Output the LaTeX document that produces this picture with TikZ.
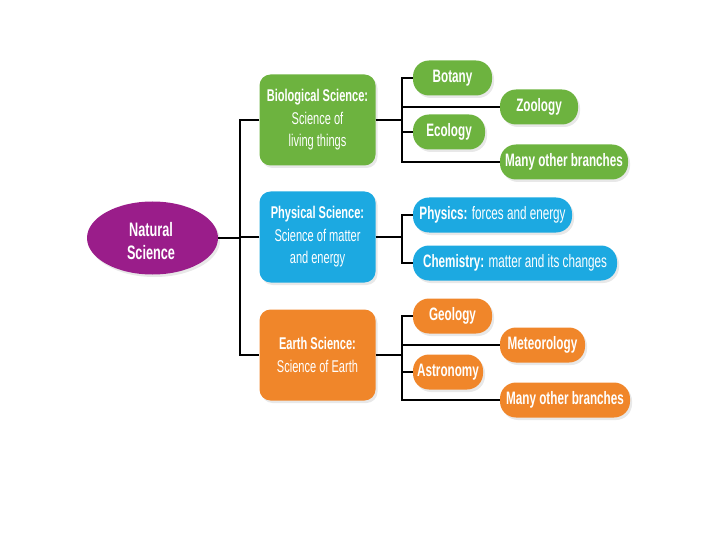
\documentclass[tikz,border=0pt]{standalone}
\usepackage{fontspec}
\setmainfont[FakeStretch=0.65]{Liberation Sans}
\usetikzlibrary{shapes.geometric,shadows}
\definecolor{bgreen}{HTML}{6DB33F}
\definecolor{pblue}{HTML}{1CA9E1}
\definecolor{eorange}{HTML}{F0862A}
\definecolor{npurple}{HTML}{9A1D8A}
\begin{document}
\begin{tikzpicture}[x=1pt,y=-1pt,
  shade/.style={drop shadow={opacity=0.18,shadow xshift=2pt,shadow yshift=-2.5pt}},
  mainbox/.style={fill=#1,shade,rounded corners=11pt,text=white,align=center,
    minimum width=116pt,minimum height=91pt,inner sep=0pt,
    font=\fontsize{17}{22.5}\selectfont},
  leaf/.style={fill=#1,shade,rounded corners=16pt,text=white,minimum height=35pt,
    inner sep=0pt,font=\fontsize{18}{20}\selectfont},
  bleaf/.style={leaf=#1,font=\fontsize{18}{20}\selectfont\bfseries},
  conn/.style={line width=1.2pt,black}]
\useasboundingbox (0,0) rectangle (720,540);

\node[ellipse,fill=npurple,shade,minimum width=131pt,minimum height=73pt,inner sep=0pt] (ns) at (152.5,238) {};
\node[text=white,align=center,inner sep=0pt,font=\fontsize{19.5}{23}\selectfont\bfseries] (nst) at (151,241) {Natural\\Science};

\node[mainbox=bgreen] (bio) at (317.5,120) {\textbf{Biological Science:}\\Science of\\living things};
\node[mainbox=pblue] (phys) at (317.5,237) {\textbf{Physical Science:}\\Science of matter\\and energy};
\node[mainbox=eorange] (earth) at (317.5,355) {\textbf{Earth Science:}\\Science of Earth};

\node[bleaf=bgreen,minimum width=79pt] (bot) at (452.5,78) {Botany};
\node[bleaf=bgreen,minimum width=78pt] (zoo) at (539,107) {Zoology};
\node[bleaf=bgreen,minimum width=72pt] (eco) at (449,132) {Ecology};
\node[bleaf=bgreen,minimum width=128pt] (many1) at (564,162) {Many other branches};

\node[leaf=pblue,minimum width=159pt] (phy) at (492.5,215) {\textbf{Physics:} forces and energy};
\node[leaf=pblue,minimum width=204pt] (chem) at (515,263) {\textbf{Chemistry:} matter and its changes};

\node[bleaf=eorange,minimum width=79pt] (geo) at (452.5,316) {Geology};
\node[bleaf=eorange,minimum width=85pt] (met) at (542.5,345) {Meteorology};
\node[bleaf=eorange,minimum width=70pt] (ast) at (448,372) {Astronomy};
\node[bleaf=eorange,minimum width=130pt] (many2) at (565,400) {Many other branches};

\coordinate (m) at (240,238);
\coordinate (b) at (402,0);

\draw[conn] (ns.east) -- (m);
\draw[conn] (bio.west) -- (bio.west -| m) -- (earth.west -| m) -- (earth.west);
\draw[conn] (phys.west) -- (phys.west -| m);

\draw[conn] (bio.east) -- (bio.east -| b);
\draw[conn] (bot.west) -- (bot.west -| b) -- (many1.west -| b) -- (many1.west);
\draw[line width=2.2pt] (zoo.west -| b) -- (zoo.west);
\draw[conn] (eco.west -| b) -- (eco.west);

\draw[conn] (phys.east) -- (phys.east -| b);
\draw[conn] (phy.west) -- (phy.west -| b) -- (chem.west -| b) -- (chem.west);

\draw[conn] (earth.east) -- (earth.east -| b);
\draw[conn] (geo.west) -- (geo.west -| b) -- (many2.west -| b) -- (many2.west);
\draw[conn] (met.west -| b) -- (met.west);
\draw[conn] (ast.west -| b) -- (ast.west);
\end{tikzpicture}
\end{document}
